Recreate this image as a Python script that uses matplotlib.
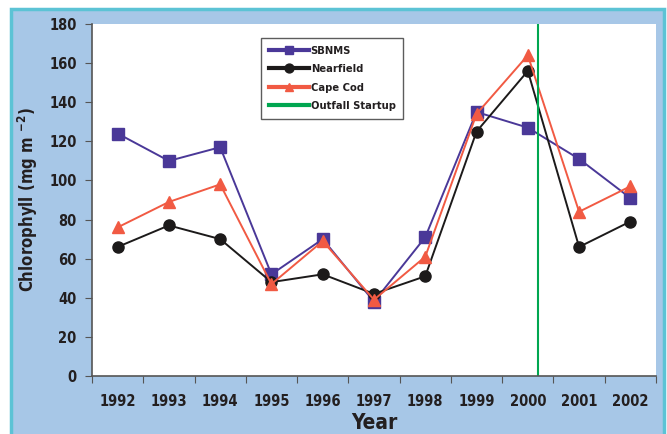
import matplotlib
matplotlib.use('Agg')
import matplotlib.pyplot as plt
from matplotlib.patches import Rectangle
import numpy as np

plt.rcParams['font.family'] = ['DejaVu Sans']
plt.rcParams['font.stretch'] = 'condensed'
plt.rcParams['font.weight'] = 'bold'
plt.rcParams['axes.labelweight'] = 'bold'
plt.rcParams['mathtext.default'] = 'bf'

years = ['1992', '1993', '1994', '1995', '1996', '1997', '1998', '1999', '2000', '2001', '2002']
sbnms = [124, 110, 117, 52, 70, 38, 71, 135, 127, 111, 91]
nearfield = [66, 77, 70, 48, 52, 42, 51, 125, 156, 66, 79]
cape_cod = [76, 89, 98, 47, 69, 39, 61, 134, 164, 84, 97]
outfall_startup = 8.2  # position between 2000 and 2001 (Sept 2000)

fig = plt.figure(figsize=(6.67, 4.34), dpi=100)
fig.patch.set_facecolor('white')

# light blue panel with cyan border
fig.patches.append(Rectangle((11 / 667, -0.05), 653 / 667, (434 - 9) / 434 + 0.05,
                             transform=fig.transFigure, facecolor='#a7c7e7',
                             edgecolor='#5cc3d5', linewidth=2.5, zorder=-10))

ax = fig.add_axes([92 / 667, 58 / 434, 564 / 667, 352 / 434])
ax.set_zorder(5)
ax.set_facecolor('white')

x = np.arange(len(years))
ax.plot(x, sbnms, color='#4a3898', marker='s', markersize=8, lw=1.4, label='SBNMS', clip_on=False)
ax.plot(x, nearfield, color='#1c1a1a', marker='o', markersize=8, lw=1.4, label='Nearfield', clip_on=False)
ax.plot(x, cape_cod, color='#f15a43', marker='^', markersize=8, lw=1.4, label='Cape Cod', clip_on=False)
ax.axvline(outfall_startup, color='#00a650', lw=1.5, label='Outfall Startup')

ax.set_xlim(-0.5, len(years) - 0.5)
ax.set_ylim(0, 180)
ax.set_yticks(range(0, 181, 20))
ax.set_xticks(np.arange(-0.5, len(years), 1.0))
ax.set_xticklabels([])
ax.set_xticks(x, minor=True)
ax.set_xticklabels(years, minor=True)
ax.tick_params(axis='x', which='minor', length=0, pad=13, labelsize=10.5, labelcolor='#231f20')
ax.tick_params(axis='x', which='major', length=5, direction='out', color='#555555')
ax.tick_params(axis='y', length=5, direction='out', color='#555555', labelsize=10.5,
               labelcolor='#231f20', pad=6)

for s in ['top', 'right']:
    ax.spines[s].set_visible(False)
for s in ['left', 'bottom']:
    ax.spines[s].set_color('#555555')
    ax.spines[s].set_linewidth(1.2)

ax.set_ylabel(r'Chlorophyll (mg m $^{-2}$)', fontsize=12, color='#231f20', labelpad=7)
ax.set_xlabel('Year', fontsize=15, color='#231f20', labelpad=3)

leg = ax.legend(loc='upper left', bbox_to_anchor=(0.30, 0.96), fontsize=8,
                frameon=True, fancybox=False, edgecolor='#333333', handlelength=3.6,
                borderpad=0.7, labelspacing=0.75, handletextpad=0.15, borderaxespad=0,
                markerscale=0.8)
leg.get_frame().set_linewidth(1.0)
for h in leg.get_lines():
    h.set_linewidth(3)
for t in leg.get_texts():
    t.set_color('#231f20')

fig.savefig('out.png', dpi=100, facecolor=fig.get_facecolor())
